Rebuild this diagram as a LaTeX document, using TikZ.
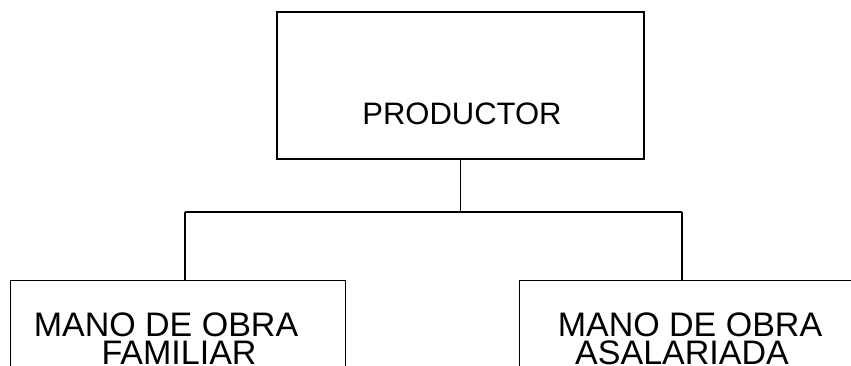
\documentclass[tikz,border=0pt]{standalone}
\usepackage{fontspec}
\setmainfont{Liberation Sans}
\usepackage{tikz}
\usetikzlibrary{positioning,calc}

\begin{document}
\begin{tikzpicture}[x=1pt,y=-1pt,
  caja/.style={draw,line width=1.4pt,inner sep=0pt},
  rotulo/.style={inner sep=0pt,anchor=base,text height=24pt,text depth=0pt,font=\fontsize{34}{34}\selectfont},
  linea/.style={line width=1.2pt}]

\useasboundingbox (0,0) rectangle (851,366);
\clip (0,0) rectangle (851,366);

% top box
\node[caja,minimum width=367pt,minimum height=147pt] (prod) at (460.5,85.5) {};
\node[rotulo,text height=22pt,font=\fontsize{31}{31}\selectfont] (prodtxt) at (462,125) {PRODUCTOR};

% bottom boxes (cut by the page edge)
\node[caja,anchor=north west,minimum width=335pt,minimum height=120pt] (fam) at (10,280) {};
\node[caja,anchor=north west,minimum width=345pt,minimum height=120pt] (asa) at (519,280) {};

\node[rotulo] (famA) at (166,336) {MANO DE OBRA};
\node[rotulo] (famB) at (179,364) {FAMILIAR};
\node[rotulo] (asaA) at (690,336) {MANO DE OBRA};
\node[rotulo] (asaB) at (682,364) {ASALARIADA};

% connectors
\coordinate (jl) at (185,212);
\coordinate (jr) at (682,212);
\draw[linea] (prod.south) -- (prod.south |- jl);
\draw[linea] (jl) -- (jr);
\draw[linea] (jl) -- (jl |- fam.north);
\draw[linea] (jr) -- (jr |- asa.north);

\end{tikzpicture}
\end{document}
